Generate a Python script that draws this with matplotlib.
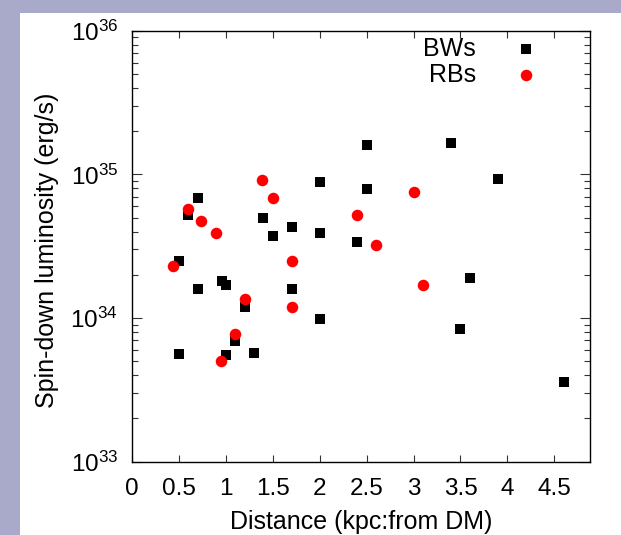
import matplotlib
matplotlib.use("Agg")
import matplotlib.pyplot as plt
from matplotlib.patches import Rectangle
from matplotlib.ticker import LogLocator, LogFormatterMathtext, NullFormatter

plt.rcParams['font.family'] = ['Liberation Sans', 'DejaVu Sans']
plt.rcParams['mathtext.fontset'] = 'custom'
plt.rcParams['mathtext.rm'] = 'Liberation Sans'

# Black widows: distance (kpc, from DM) and spin-down luminosity (erg/s)
bw_dist = [0.5, 0.5, 0.6, 0.7, 0.7, 0.96, 1.0, 1.0, 1.1, 1.2, 1.3, 1.4, 1.5,
           1.7, 1.7, 2.0, 2.0, 2.0, 2.4, 2.5, 2.5, 3.4, 3.5, 3.6, 3.9, 4.6]
bw_edot = [2.5e34, 5.6e33, 5.2e34, 6.8e34, 1.6e34, 1.8e34, 1.7e34, 5.5e33,
           6.95e33, 1.2e34, 5.75e33, 4.95e34, 3.7e34, 4.3e34, 1.6e34, 8.9e34,
           3.9e34, 9.9e33, 3.4e34, 1.6e35, 7.9e34, 1.66e35, 8.4e33, 1.9e34,
           9.3e34, 3.6e33]

# Redbacks
rb_dist = [0.44, 0.6, 0.74, 0.9, 0.95, 1.1, 1.2, 1.38, 1.5, 1.7, 1.7, 2.4,
           2.6, 3.0, 3.1]
rb_edot = [2.3e34, 5.7e34, 4.7e34, 3.9e34, 5.0e33, 7.7e33, 1.35e34, 9.2e34,
           6.8e34, 2.5e34, 1.2e34, 5.2e34, 3.2e34, 7.5e34, 1.7e34]

x_ticks = [0, 0.5, 1, 1.5, 2, 2.5, 3, 3.5, 4, 4.5]
x_tick_labels = ['0', '0.5', '1', '1.5', '2', '2.5', '3', '3.5', '4', '4.5']

W, H = 621, 535
fig = plt.figure(figsize=(W / 100, H / 100), dpi=100)
fig.patch.set_facecolor('#a9a9c9')
panel = Rectangle((20 / W, 0), 1 - 20 / W, 1 - 13 / H,
                  transform=fig.transFigure, facecolor='white',
                  edgecolor='none', zorder=-10)
fig.add_artist(panel)

ax = fig.add_axes([132 / W, 1 - 461.7 / H, 458 / W, 431 / H])
ax.set_zorder(1)
ax.set_facecolor('white')

ax.plot(bw_dist, bw_edot, linestyle='none', marker='s', markersize=7.6,
        color='black', markeredgewidth=0, zorder=3)
ax.plot(rb_dist, rb_edot, linestyle='none', marker='o', markersize=8.3,
        color='#ff0000', markeredgewidth=0, zorder=4)

ax.set_yscale('log')
ax.set_xlim(0, 4.88)
ax.set_ylim(1e33, 1e36)

ax.set_xticks(x_ticks)
ax.set_xticklabels(x_tick_labels)
ax.yaxis.set_major_locator(LogLocator(base=10, numticks=10))
ax.yaxis.set_major_formatter(LogFormatterMathtext())
ax.yaxis.set_minor_locator(LogLocator(base=10, subs=range(2, 10), numticks=20))
ax.yaxis.set_minor_formatter(NullFormatter())

ax.tick_params(axis='both', which='both', direction='in', top=True, right=True,
               labelsize=17.5, width=0.8, color='#333333')
ax.tick_params(axis='x', which='major', length=5, pad=12)
ax.tick_params(axis='y', which='major', length=7, pad=10)
ax.tick_params(axis='y', which='minor', length=4)
for s in ax.spines.values():
    s.set_linewidth(1.0)
    s.set_color('black')

ax.set_xlabel('Distance (kpc:from DM)', fontsize=18)
ax.set_ylabel('Spin-down luminosity (erg/s)', fontsize=18)
ax.xaxis.set_label_coords(0.5, (461.7 - 510) / 431)
ax.yaxis.set_label_coords((59 - 132) / 458, 0.49)

# Key in the upper right corner
ax.text(0.751, 0.957, 'BWs', transform=ax.transAxes, ha='right', va='center',
        fontsize=18)
ax.text(0.751, 0.897, 'RBs', transform=ax.transAxes, ha='right', va='center',
        fontsize=18)
ax.plot([0.86], [0.957], transform=ax.transAxes, marker='s', markersize=7.6,
        color='black', markeredgewidth=0, linestyle='none', clip_on=False)
ax.plot([0.86], [0.897], transform=ax.transAxes, marker='o', markersize=8.3,
        color='#ff0000', markeredgewidth=0, linestyle='none', clip_on=False)

fig.savefig('out.png', dpi=100, facecolor=fig.get_facecolor())
